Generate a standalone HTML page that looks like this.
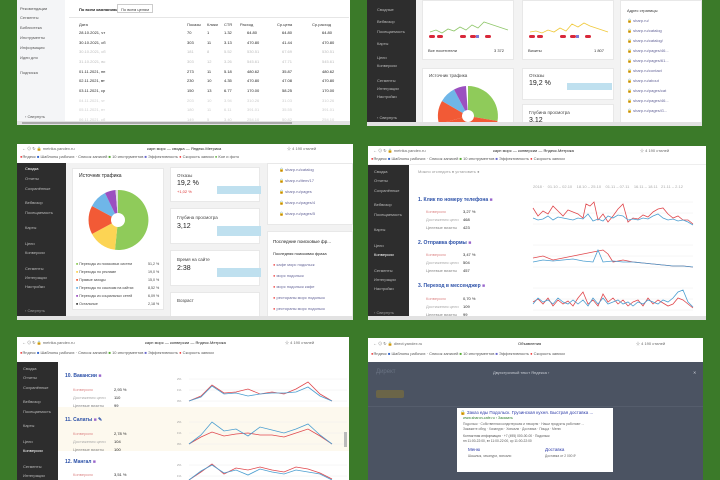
<!DOCTYPE html>
<html><head><meta charset="utf-8"><style>
*{margin:0;padding:0;box-sizing:border-box}
body{width:720px;height:480px;background:#3b7a29;position:relative;overflow:hidden;font-family:"Liberation Sans","Noto Sans CJK SC",sans-serif;font-size:4px;color:#333}
.a{position:absolute}
.p{position:absolute;background:#fff;overflow:hidden}
.dk{background:#2d2d2d}
.card{position:absolute;background:#fff;border:1px solid #e8e8e8}
.t{position:absolute;white-space:nowrap;font-size:4px;color:#444}
</style></head><body>

<!-- TOP LEFT -->
<div class="p" style="left:17px;top:0;width:333px;height:125px">
 <div class="a" style="left:0;top:0;width:48px;height:125px;background:#f4f5f7"></div>
 <div class="t" style="left:3px;top:6px;color:#555">Рекомендации</div>
 <div class="t" style="left:3px;top:15px;color:#555">Сегменты</div>
 <div class="t" style="left:3px;top:25px;color:#555">Библиотека</div>
 <div class="t" style="left:3px;top:35px;color:#555">Инструменты</div>
 <div class="t" style="left:3px;top:45px;color:#555">Информация</div>
 <div class="t" style="left:3px;top:55px;color:#555">Идеи для</div>
 <div class="t" style="left:3px;top:70px;color:#555">Подписка</div>
 <div class="t" style="left:8px;top:114px;color:#555">‹ Свернуть</div>
 <div class="a" style="left:52px;top:17px;width:280px;height:1px;background:#e6e6e6"></div>
 <div class="t" style="left:62px;top:7px;font-weight:bold;color:#222">По всем кампаниям</div>
 <div class="a" style="left:100px;top:4px;width:36px;height:9px;border:1px solid #ccc"></div>
 <div class="t" style="left:104px;top:7px">По всем целям</div>
 <svg class="a" style="left:60px;top:20px" width="272" height="104">
  <g font-size="4" fill="#333" font-family="Liberation Sans">
  <text x="2" y="6">Дата</text><text x="110" y="6">Показы</text><text x="130" y="6">Клики</text><text x="147" y="6">CTR</text><text x="163" y="6">Расход</text><text x="200" y="6">Ср.цена</text><text x="235" y="6">Ср.расход</text>
  </g>
  <g font-size="4" font-family="Liberation Sans">
  <g fill="#222"><text x="2" y="14">28.10.2021, чт</text><text x="110" y="14">70</text><text x="130" y="14">1</text><text x="147" y="14">1.32</text><text x="170" y="14">64.80</text><text x="205" y="14">64.80</text><text x="245" y="14">64.80</text></g>
  <g fill="#222"><text x="2" y="24">30.10.2021, сб</text><text x="110" y="24">303</text><text x="130" y="24">11</text><text x="147" y="24">3.13</text><text x="170" y="24">470.80</text><text x="205" y="24">41.44</text><text x="245" y="24">470.80</text></g>
  <g fill="#bbb"><text x="2" y="33">30.10.2021, сб</text><text x="110" y="33">181</text><text x="130" y="33">8</text><text x="147" y="33">5.52</text><text x="170" y="33">530.51</text><text x="205" y="33">67.69</text><text x="245" y="33">530.51</text></g>
  <g fill="#bbb"><text x="2" y="43">31.10.2021, вс</text><text x="110" y="43">303</text><text x="130" y="43">12</text><text x="147" y="43">3.26</text><text x="170" y="43">545.61</text><text x="205" y="43">47.71</text><text x="245" y="43">545.61</text></g>
  <g fill="#222"><text x="2" y="53">01.11.2021, пн</text><text x="110" y="53">273</text><text x="130" y="53">11</text><text x="147" y="53">5.18</text><text x="170" y="53">480.62</text><text x="205" y="53">35.87</text><text x="245" y="53">480.62</text></g>
  <g fill="#222"><text x="2" y="62">02.11.2021, вт</text><text x="110" y="62">230</text><text x="130" y="62">10</text><text x="147" y="62">4.35</text><text x="170" y="62">470.80</text><text x="205" y="62">47.08</text><text x="245" y="62">470.80</text></g>
  <g fill="#222"><text x="2" y="72">03.11.2021, ср</text><text x="110" y="72">150</text><text x="130" y="72">13</text><text x="147" y="72">6.77</text><text x="170" y="72">170.00</text><text x="205" y="72">58.25</text><text x="245" y="72">170.00</text></g>
  <g fill="#ccc"><text x="2" y="82">04.11.2021, чт</text><text x="110" y="82">203</text><text x="130" y="82">10</text><text x="147" y="82">3.94</text><text x="170" y="82">310.26</text><text x="205" y="82">31.03</text><text x="245" y="82">310.26</text></g>
  <g fill="#ccc"><text x="2" y="91">05.11.2021, пт</text><text x="110" y="91">180</text><text x="130" y="91">11</text><text x="147" y="91">6.11</text><text x="170" y="91">391.01</text><text x="205" y="91">35.55</text><text x="245" y="91">391.01</text></g>
  <g fill="#ccc"><text x="2" y="101">06.11.2021, сб</text><text x="110" y="101">149</text><text x="130" y="101">5</text><text x="147" y="101">3.40</text><text x="170" y="101">254.10</text><text x="205" y="101">50.82</text><text x="245" y="101">254.10</text></g>
  </g>
 </svg>
 <div class="a" style="left:0;top:121px;width:333px;height:4px;background:#e2e2e2"></div>
 <div class="a" style="left:5px;top:122px;width:270px;height:2px;background:#aaa"></div>
</div>

<!-- TOP RIGHT -->
<div class="p" style="left:367px;top:0;width:335px;height:126px;background:#f3f3f3">
 <div class="a dk" style="left:0;top:0;width:49px;height:126px"></div>
 <div class="t" style="left:10px;top:7px;color:#bbb">Сводные</div>
 <div class="t" style="left:10px;top:19px;color:#bbb">Вебвизор</div>
 <div class="t" style="left:10px;top:29px;color:#bbb">Посещаемость</div>
 <div class="t" style="left:10px;top:41px;color:#bbb">Карты</div>
 <div class="t" style="left:10px;top:55px;color:#bbb">Цели</div>
 <div class="t" style="left:10px;top:63px;color:#bbb">Конверсии</div>
 <div class="t" style="left:10px;top:78px;color:#bbb">Сегменты</div>
 <div class="t" style="left:10px;top:86px;color:#bbb">Интеграции</div>
 <div class="t" style="left:10px;top:94px;color:#bbb">Настройки</div>
 <div class="t" style="left:10px;top:115px;color:#bbb">‹ Свернуть</div>
 <div class="card" style="left:55px;top:0;width:92px;height:60px"></div>
 <div class="card" style="left:155px;top:0;width:92px;height:60px"></div>
 <svg class="a" style="left:55px;top:0" width="200" height="60">
  <polyline fill="none" stroke="#8fc76a" stroke-width="0.8" points="8,32 14,30 20,33 26,29 32,31 38,27 44,30 50,25 56,28 62,22 68,24 74,26 80,28 86,30"/>
  <polyline fill="none" stroke="#f0c93a" stroke-width="0.8" points="108,32 114,31 120,33 126,30 132,32 138,28 144,31 150,24 156,27 162,23 168,26 174,28 180,30 186,32"/>
  <g fill="#d8283a"><rect x="7" y="35" width="6" height="3" rx="1.5"/><rect x="15" y="35" width="6" height="3" rx="1.5"/><rect x="38" y="35" width="6" height="3" rx="1.5"/><rect x="48" y="35" width="6" height="3" rx="1.5"/><rect x="63" y="35" width="6" height="3" rx="1.5"/>
  <rect x="107" y="35" width="6" height="3" rx="1.5"/><rect x="115" y="35" width="6" height="3" rx="1.5"/><rect x="138" y="35" width="6" height="3" rx="1.5"/><rect x="148" y="35" width="6" height="3" rx="1.5"/><rect x="163" y="35" width="6" height="3" rx="1.5"/></g>
  <g fill="#7a7ad8"><rect x="54" y="35" width="3" height="3"/><rect x="154" y="35" width="3" height="3"/></g>
  <text x="6" y="52" font-size="4" fill="#333">Все посетители</text><text x="72" y="52" font-size="4" fill="#333">3 372</text>
  <text x="106" y="52" font-size="4" fill="#333">Визиты</text><text x="172" y="52" font-size="4" fill="#333">1 807</text>
 </svg>
 <div class="card" style="left:253px;top:0;width:82px;height:126px"></div>
 <div class="t" style="left:260px;top:8px;color:#333">Адрес страницы</div>
 <div class="t" style="left:260px;top:18px;color:#669">🔒 sharp.ru/</div>
 <div class="t" style="left:260px;top:28px;color:#669">🔒 sharp.ru/catalog</div>
 <div class="t" style="left:260px;top:38px;color:#669">🔒 sharp.ru/catalog/</div>
 <div class="t" style="left:260px;top:48px;color:#669">🔒 sharp.ru/pages/46...</div>
 <div class="t" style="left:260px;top:58px;color:#669">🔒 sharp.ru/pages/61...</div>
 <div class="t" style="left:260px;top:68px;color:#669">🔒 sharp.ru/contact</div>
 <div class="t" style="left:260px;top:78px;color:#669">🔒 sharp.ru/about</div>
 <div class="t" style="left:260px;top:88px;color:#669">🔒 sharp.ru/pages/cat</div>
 <div class="t" style="left:260px;top:98px;color:#669">🔒 sharp.ru/pages/46...</div>
 <div class="t" style="left:260px;top:108px;color:#669">🔒 sharp.ru/pages/G...</div>
 <div class="card" style="left:55px;top:68px;width:92px;height:58px"></div>
 <div class="t" style="left:62px;top:73px;font-size:4.5px">Источник трафика</div>
 <svg class="a" style="left:55px;top:68px" width="92" height="58">
  <g transform="translate(46,48)">
   <path d="M0,0 L0,-30 A30,30 0 0 1 29.5,5 Z" fill="#8fcb5a"/>
   <path d="M0,0 L29.5,5 A30,30 0 0 1 -10,28 L-29,8 Z" fill="#f25a36"/>
   <path d="M0,0 L-29,8 A30,30 0 0 1 -26,-15 Z" fill="#f25a36"/>
   <path d="M0,0 L-26,-15 A30,30 0 0 1 -14,-26.5 Z" fill="#6fb6e8"/>
   <path d="M0,0 L-14,-26.5 A30,30 0 0 1 -2,-30 Z" fill="#9b50c0"/>
   <circle r="6" fill="#fff"/>
  </g>
 </svg>
 <div class="card" style="left:155px;top:68px;width:92px;height:32px"></div>
 <div class="t" style="left:162px;top:73px;font-size:4.5px">Отказы</div>
 <div class="t" style="left:162px;top:80px;font-size:7px;color:#222">19,2 %</div>
 <div class="a" style="left:200px;top:83px;width:45px;height:7px;background:#bfe0ef"></div>
 <div class="card" style="left:155px;top:104px;width:92px;height:22px"></div>
 <div class="t" style="left:162px;top:110px;font-size:4.5px">Глубина просмотра</div>
 <div class="t" style="left:162px;top:117px;font-size:7px;color:#222">3,12</div>
 <div class="a" style="left:0;top:122px;width:335px;height:4px;background:#e2e2e2"></div>
</div>

<!-- MIDDLE LEFT -->
<div class="p" style="left:17px;top:144px;width:336px;height:176px;background:#f2f2f2">
 <div class="a" style="left:0;top:0;width:336px;height:19px;background:#fff"></div>
 <div class="t" style="left:5px;top:2px;color:#666">←  ⊙  ↻  🔒 metrika.yandex.ru</div>
 <div class="t" style="left:130px;top:2px;color:#222">карп морс — сводка — Яндекс.Метрика</div>
 <div class="t" style="left:270px;top:2px;color:#666">☆ 4 190 стилей</div>
 <div class="t" style="left:3px;top:10px;color:#555"><span style="color:#e33">●</span>Яндекс <span style="color:#36c">■</span> Шаблоны рабочих · Список записей <span style="color:#5a3">■</span> 10 инструментов <span style="color:#66c">■</span> Эффективность <span style="color:#e33">●</span> Скорость записи <span style="color:#5a3">●</span> Кое и фото</div>
 <div class="a dk" style="left:0;top:19px;width:49px;height:153px"></div>
 <div class="t" style="left:8px;top:22px;color:#fff">Сводка</div>
 <div class="t" style="left:8px;top:32px;color:#bbb">Отчеты</div>
 <div class="t" style="left:8px;top:42px;color:#bbb">Сохранённые</div>
 <div class="t" style="left:8px;top:56px;color:#bbb">Вебвизор</div>
 <div class="t" style="left:8px;top:66px;color:#bbb">Посещаемость</div>
 <div class="t" style="left:8px;top:81px;color:#bbb">Карты</div>
 <div class="t" style="left:8px;top:97px;color:#bbb">Цели</div>
 <div class="t" style="left:8px;top:106px;color:#bbb">Конверсии</div>
 <div class="t" style="left:8px;top:122px;color:#bbb">Сегменты</div>
 <div class="t" style="left:8px;top:131px;color:#bbb">Интеграции</div>
 <div class="t" style="left:8px;top:140px;color:#bbb">Настройки</div>
 <div class="t" style="left:8px;top:164px;color:#999">‹ Свернуть</div>
 <div class="card" style="left:55px;top:24px;width:92px;height:142px"></div>
 <div class="t" style="left:62px;top:29px;font-size:5px;color:#222">Источник трафика</div>
 <svg class="a" style="left:55px;top:24px" width="92" height="142">
  <g transform="translate(46,52)">
   <path d="M0,0 L0,-30 A30,30 0 1 1 -3,29.8 Z" fill="#8fcb5a"/>
   <path d="M0,0 L-3,29.8 A30,30 0 0 1 -26,14 Z" fill="#fcd454"/>
   <path d="M0,0 L-26,14 A30,30 0 0 1 -26,-14 Z" fill="#f25a36"/>
   <path d="M0,0 L-26,-14 A30,30 0 0 1 -13,-27 Z" fill="#6fb6e8"/>
   <path d="M0,0 L-13,-27 A30,30 0 0 1 -2.5,-30 Z" fill="#9b50c0"/>
   <path d="M0,0 L-2.5,-30 A30,30 0 0 1 0,-30 Z" fill="#ddd"/>
   <circle r="7" fill="#fff"/>
  </g>
  <g font-size="3.6" fill="#444" font-family="Liberation Sans">
   <text x="4" y="97"><tspan fill="#8fcb5a">■</tspan> Переходы из поисковых систем</text><text x="76" y="97">51,2 %</text>
   <text x="4" y="105"><tspan fill="#fcd454">■</tspan> Переходы по рекламе</text><text x="76" y="105">19,0 %</text>
   <text x="4" y="113"><tspan fill="#f25a36">■</tspan> Прямые заходы</text><text x="76" y="113">15,0 %</text>
   <text x="4" y="121"><tspan fill="#6fb6e8">■</tspan> Переходы по ссылкам на сайтах</text><text x="76" y="121">8,52 %</text>
   <text x="4" y="129"><tspan fill="#9b50c0">■</tspan> Переходы из социальных сетей</text><text x="76" y="129">6,09 %</text>
   <text x="4" y="137">■ Остальные</text><text x="76" y="137">2,18 %</text>
  </g>
 </svg>
 <div class="card" style="left:153px;top:23px;width:90px;height:35px"></div>
 <div class="t" style="left:160px;top:29px;font-size:4.5px">Отказы</div>
 <div class="t" style="left:160px;top:36px;font-size:7px;color:#222">19,2 %</div>
 <div class="t" style="left:160px;top:45px;color:#d33">+1,02 %</div>
 <div class="a" style="left:200px;top:42px;width:44px;height:8px;background:#bfe0ef"></div>
 <div class="card" style="left:153px;top:64px;width:90px;height:36px"></div>
 <div class="t" style="left:160px;top:71px;font-size:4.5px">Глубина просмотра</div>
 <div class="t" style="left:160px;top:79px;font-size:7px;color:#222">3,12</div>
 <div class="a" style="left:200px;top:82px;width:44px;height:10px;background:#bfe0ef"></div>
 <div class="card" style="left:153px;top:106px;width:90px;height:36px"></div>
 <div class="t" style="left:160px;top:113px;font-size:4.5px">Время на сайте</div>
 <div class="t" style="left:160px;top:121px;font-size:7px;color:#222">2:38</div>
 <div class="a" style="left:200px;top:124px;width:44px;height:9px;background:#bfe0ef"></div>
 <div class="card" style="left:153px;top:148px;width:90px;height:28px"></div>
 <div class="t" style="left:160px;top:154px;font-size:4.5px">Возраст</div>
 <div class="card" style="left:250px;top:19px;width:86px;height:62px"></div>
 <div class="t" style="left:262px;top:23px;color:#669">🔒 sharp.ru/catalog</div>
 <div class="t" style="left:262px;top:34px;color:#669">🔒 sharp.ru/item/17</div>
 <div class="t" style="left:262px;top:45px;color:#669">🔒 sharp.ru/pages</div>
 <div class="t" style="left:262px;top:56px;color:#669">🔒 sharp.ru/pages/4</div>
 <div class="t" style="left:262px;top:67px;color:#669">🔒 sharp.ru/pages/5</div>
 <div class="card" style="left:250px;top:87px;width:86px;height:89px"></div>
 <div class="t" style="left:256px;top:95px;font-size:4.5px;color:#222">Последние поисковые фр...</div>
 <div class="t" style="left:256px;top:107px;color:#222">Последняя поисковая фраза</div>
 <div class="t" style="left:256px;top:118px;color:#669"><span style="color:#e55">●</span> кафе морс подольск</div>
 <div class="t" style="left:256px;top:129px;color:#669"><span style="color:#e55">●</span> морс подольск</div>
 <div class="t" style="left:256px;top:140px;color:#669"><span style="color:#e55">●</span> морс подольск кафе</div>
 <div class="t" style="left:256px;top:151px;color:#669"><span style="color:#e55">●</span> рестораны морс подольск</div>
 <div class="t" style="left:256px;top:162px;color:#669"><span style="color:#e55">●</span> рестораны морс подольск</div>
 <div class="a" style="left:0;top:172px;width:336px;height:4px;background:#e2e2e2"></div>
</div>

<!-- MIDDLE RIGHT -->
<div class="p" style="left:368px;top:146px;width:338px;height:174px">
 <div class="a" style="left:0;top:0;width:338px;height:19px;background:#fff;border-bottom:1px solid #eee"></div>
 <div class="t" style="left:5px;top:2px;color:#666">←  ⊙  ↻  🔒 metrika.yandex.ru</div>
 <div class="t" style="left:125px;top:2px;color:#222">карп морс — конверсии — Яндекс.Метрика</div>
 <div class="t" style="left:272px;top:2px;color:#666">☆ 4 190 стилей</div>
 <div class="t" style="left:3px;top:10px;color:#555"><span style="color:#e33">●</span>Яндекс <span style="color:#36c">■</span> Шаблоны рабочих · Список записей <span style="color:#5a3">■</span> 10 инструментов <span style="color:#66c">■</span> Эффективность <span style="color:#e33">●</span> Скорость записи</div>
 <div class="a dk" style="left:0;top:19px;width:41px;height:151px"></div>
 <div class="t" style="left:6px;top:23px;color:#bbb">Сводка</div>
 <div class="t" style="left:6px;top:32px;color:#bbb">Отчеты</div>
 <div class="t" style="left:6px;top:42px;color:#bbb">Сохранённые</div>
 <div class="t" style="left:6px;top:56px;color:#bbb">Вебвизор</div>
 <div class="t" style="left:6px;top:66px;color:#bbb">Посещаемость</div>
 <div class="t" style="left:6px;top:81px;color:#bbb">Карты</div>
 <div class="t" style="left:6px;top:97px;color:#bbb">Цели</div>
 <div class="t" style="left:6px;top:106px;color:#fff">Конверсии</div>
 <div class="t" style="left:6px;top:122px;color:#bbb">Сегменты</div>
 <div class="t" style="left:6px;top:131px;color:#bbb">Интеграции</div>
 <div class="t" style="left:6px;top:140px;color:#bbb">Настройки</div>
 <div class="t" style="left:6px;top:164px;color:#999">‹ Свернуть</div>
 <div class="t" style="left:50px;top:23px;color:#999">Можно отследить ● установить ●</div>
 <div class="t" style="left:165px;top:38px;color:#aaa">2018 · &nbsp;&nbsp;01.10 – 02.10 &nbsp;&nbsp; 18.10 – 25.10 &nbsp;&nbsp; 01.11 – 07.11 &nbsp;&nbsp; 16.11 – 18.11 &nbsp; 21.11 – 2.12</div>
 <div class="t" style="left:50px;top:51px;font-size:5px;color:#2b50a8;font-weight:bold">1. Клик по номеру телефона <span style="color:#96c">■</span></div>
 <div class="t" style="left:58px;top:63px;color:#d88">Конверсия</div><div class="t" style="left:95px;top:63px;color:#222">3,27 %</div>
 <div class="t" style="left:58px;top:71px;color:#aaa">Достижения цели</div><div class="t" style="left:95px;top:71px;color:#222">468</div>
 <div class="t" style="left:58px;top:79px;color:#888">Целевые визиты</div><div class="t" style="left:95px;top:79px;color:#222">423</div>
 <div class="t" style="left:50px;top:94px;font-size:5px;color:#2b50a8;font-weight:bold">2. Отправка формы <span style="color:#96c">■</span></div>
 <div class="t" style="left:58px;top:106px;color:#d88">Конверсия</div><div class="t" style="left:95px;top:106px;color:#222">3,47 %</div>
 <div class="t" style="left:58px;top:114px;color:#aaa">Достижения цели</div><div class="t" style="left:95px;top:114px;color:#222">504</div>
 <div class="t" style="left:58px;top:122px;color:#888">Целевые визиты</div><div class="t" style="left:95px;top:122px;color:#222">457</div>
 <div class="t" style="left:50px;top:137px;font-size:5px;color:#2b50a8;font-weight:bold">3. Переход в мессенджер <span style="color:#96c">■</span></div>
 <div class="t" style="left:58px;top:150px;color:#d88">Конверсия</div><div class="t" style="left:95px;top:150px;color:#222">0,70 %</div>
 <div class="t" style="left:58px;top:158px;color:#aaa">Достижения цели</div><div class="t" style="left:95px;top:158px;color:#222">109</div>
 <div class="t" style="left:58px;top:166px;color:#888">Целевые визиты</div><div class="t" style="left:95px;top:166px;color:#222">99</div>
 <svg class="a" style="left:160px;top:48px" width="178" height="125">
  <g stroke="#eee" stroke-width="0.5"><line x1="5" y1="8" x2="165" y2="8"/><line x1="5" y1="19" x2="165" y2="19"/><line x1="5" y1="30" x2="165" y2="30"/><line x1="5" y1="51" x2="165" y2="51"/><line x1="5" y1="62" x2="165" y2="62"/><line x1="5" y1="73" x2="165" y2="73"/><line x1="5" y1="94" x2="165" y2="94"/><line x1="5" y1="105" x2="165" y2="105"/><line x1="5" y1="116" x2="165" y2="116"/></g>
  <polyline fill="none" stroke="#e0484d" stroke-width="0.8" points="5,14 10,22 15,17 20,20 25,12 30,17 35,22 40,16 45,18 50,20 55,24 58,10 62,12 66,8 70,26 75,20 80,28 85,22 90,15 95,10 100,28 105,24 110,25 115,21 120,23 125,18 130,15 135,14 140,20 145,24 150,22 155,26 160,26 165,30"/>
  <polyline fill="none" stroke="#4b9ed0" stroke-width="0.8" points="5,24 10,26 15,25 20,22 25,26 30,23 35,24 40,25 45,26 50,24 55,25 60,20 65,27 70,25 75,27 80,22 85,24 90,21 95,22 100,26 105,25 110,26 115,24 120,25 125,22 130,20 135,24 140,26 145,25 150,27 155,26 160,28 165,31"/>
  <polyline fill="none" stroke="#e0484d" stroke-width="0.8" points="5,64 15,62 25,66 35,64 45,62 55,60 65,58 75,56 80,60 85,68 95,66 105,68 115,69 125,70 135,71 145,72 155,72 165,73"/>
  <polyline fill="none" stroke="#4b9ed0" stroke-width="0.8" points="5,68 15,66 25,67 35,66 45,65 55,67 65,68 70,56 75,68 85,67 95,68 105,68 115,69 125,70 135,71 145,72 155,72 165,73"/>
  <polyline fill="none" stroke="#e0484d" stroke-width="0.8" points="5,108 10,105 15,110 20,104 25,112 30,106 35,110 40,107 45,112 50,104 55,98 60,110 65,106 70,112 75,100 80,108 85,104 90,110 95,106 100,112 105,108 110,106 115,112 120,104 125,110 130,106 135,109 140,112 145,110 150,104 155,106 160,110 165,114"/>
  <polyline fill="none" stroke="#4b9ed0" stroke-width="0.8" points="5,110 10,104 15,108 20,106 25,110 30,104 35,108 40,110 45,106 50,110 55,106 60,112 65,104 70,110 75,104 80,110 85,108 90,106 95,110 100,108 105,112 110,108 115,110 120,106 125,108 130,110 135,106 140,108 145,104 150,98 155,96 160,108 165,113"/>
 </svg>
 <div class="a" style="left:0;top:170px;width:338px;height:4px;background:#e2e2e2"></div>
</div>

<!-- BOTTOM LEFT -->
<div class="p" style="left:17px;top:337px;width:332px;height:143px">
 <div class="a" style="left:0;top:0;width:332px;height:25px;background:#fff"></div>
 <div class="t" style="left:5px;top:3px;color:#666">←  ⊙  ↻  🔒 metrika.yandex.ru</div>
 <div class="t" style="left:128px;top:3px;color:#222">карп морс — конверсии — Яндекс.Метрика</div>
 <div class="t" style="left:268px;top:3px;color:#666">☆ 4 190 стилей</div>
 <div class="t" style="left:3px;top:13px;color:#555"><span style="color:#e33">●</span>Яндекс <span style="color:#36c">■</span> Шаблоны рабочих · Список записей <span style="color:#5a3">■</span> 10 инструментов <span style="color:#66c">■</span> Эффективность <span style="color:#e33">●</span> Скорость записи</div>
 <div class="a dk" style="left:0;top:25px;width:41px;height:118px"></div>
 <div class="t" style="left:6px;top:29px;color:#bbb">Сводка</div>
 <div class="t" style="left:6px;top:38px;color:#bbb">Отчеты</div>
 <div class="t" style="left:6px;top:48px;color:#bbb">Сохранённые</div>
 <div class="t" style="left:6px;top:62px;color:#bbb">Вебвизор</div>
 <div class="t" style="left:6px;top:72px;color:#bbb">Посещаемость</div>
 <div class="t" style="left:6px;top:86px;color:#bbb">Карты</div>
 <div class="t" style="left:6px;top:102px;color:#bbb">Цели</div>
 <div class="t" style="left:6px;top:111px;color:#fff">Конверсии</div>
 <div class="t" style="left:6px;top:127px;color:#bbb">Сегменты</div>
 <div class="t" style="left:6px;top:136px;color:#bbb">Интеграции</div>
 <div class="a" style="left:41px;top:70px;width:291px;height:44px;background:#fdf9ee"></div>
 <div class="t" style="left:48px;top:36px;font-size:5px;color:#2b50a8;font-weight:bold">10. Вакансии <span style="color:#96c">■</span></div>
 <div class="t" style="left:56px;top:50px;color:#d88">Конверсия</div><div class="t" style="left:97px;top:50px;color:#222">2,93 %</div>
 <div class="t" style="left:56px;top:58px;color:#aaa">Достижения цели</div><div class="t" style="left:97px;top:58px;color:#222">110</div>
 <div class="t" style="left:56px;top:66px;color:#888">Целевые визиты</div><div class="t" style="left:97px;top:66px;color:#222">99</div>
 <div class="t" style="left:48px;top:80px;font-size:5px;color:#2b50a8;font-weight:bold">11. Салаты <span style="color:#96c">■</span> ✎</div>
 <div class="t" style="left:56px;top:94px;color:#d88">Конверсия</div><div class="t" style="left:97px;top:94px;color:#222">2,78 %</div>
 <div class="t" style="left:56px;top:102px;color:#aaa">Достижения цели</div><div class="t" style="left:97px;top:102px;color:#222">104</div>
 <div class="t" style="left:56px;top:110px;color:#888">Целевые визиты</div><div class="t" style="left:97px;top:110px;color:#222">100</div>
 <div class="t" style="left:48px;top:122px;font-size:5px;color:#2b50a8;font-weight:bold">12. Мангал <span style="color:#96c">■</span></div>
 <div class="t" style="left:56px;top:135px;color:#d88">Конверсия</div><div class="t" style="left:97px;top:135px;color:#222">3,51 %</div>
 <svg class="a" style="left:160px;top:30px" width="172" height="113">
  <g stroke="#eee" stroke-width="0.5"><line x1="12" y1="12" x2="170" y2="12"/><line x1="12" y1="23" x2="170" y2="23"/><line x1="12" y1="34" x2="170" y2="34"/><line x1="12" y1="55" x2="170" y2="55"/><line x1="12" y1="66" x2="170" y2="66"/><line x1="12" y1="77" x2="170" y2="77"/><line x1="12" y1="98" x2="170" y2="98"/><line x1="12" y1="109" x2="170" y2="109"/></g>
  <g font-size="3" fill="#999"><text x="0" y="13">2%</text><text x="0" y="24">1%</text><text x="0" y="35">0%</text><text x="0" y="56">2%</text><text x="0" y="67">1%</text><text x="0" y="78">0%</text><text x="0" y="99">2%</text><text x="0" y="110">1%</text></g>
  <polyline fill="none" stroke="#e0484d" stroke-width="0.8" points="12,34 24,29 35,18 47,26 59,25 71,22 83,27 95,25 107,27 119,22 131,15 143,27 155,34"/>
  <polyline fill="none" stroke="#4b9ed0" stroke-width="0.8" points="12,34 24,30 35,19 47,27 59,26 71,29 83,27 95,26 107,26 119,25 131,20 143,29 155,34"/>
  <polyline fill="none" stroke="#e0484d" stroke-width="0.8" points="12,77 24,70 35,65 47,69 59,67 71,66 83,68 95,68 107,70 119,66 131,62 143,69 155,77"/>
  <polyline fill="none" stroke="#4b9ed0" stroke-width="0.8" points="12,77 24,68 35,55 47,64 59,62 71,69 83,60 95,63 107,66 119,62 131,57 143,68 155,77"/>
  <polyline fill="none" stroke="#e0484d" stroke-width="0.8" points="12,113 24,105 35,97 47,107 59,101 71,103 83,100 95,103 107,105 119,100 131,102 143,106 155,112"/>
  <polyline fill="none" stroke="#4b9ed0" stroke-width="0.8" points="12,113 24,104 35,98 47,106 59,103 71,108 83,102 95,105 107,107 119,103 131,105 143,107 155,113"/>
 </svg>
 <div class="a" style="left:327px;top:95px;width:3px;height:15px;background:#bbb"></div>
</div>

<!-- BOTTOM RIGHT -->
<div class="p" style="left:368px;top:338px;width:335px;height:142px;background:#4b5362">
 <div class="a" style="left:0;top:0;width:335px;height:24px;background:#fff"></div>
 <div class="t" style="left:5px;top:3px;color:#666">←  ⊙  ↻  🔒 direct.yandex.ru</div>
 <div class="t" style="left:150px;top:3px;color:#222">Объявления</div>
 <div class="t" style="left:268px;top:3px;color:#666">☆ 4 190 стилей</div>
 <div class="t" style="left:3px;top:13px;color:#555"><span style="color:#e33">●</span>Яндекс <span style="color:#36c">■</span> Шаблоны рабочих · Список записей <span style="color:#5a3">■</span> 10 инструментов <span style="color:#66c">■</span> Эффективность <span style="color:#e33">●</span> Скорость записи</div>
 <div class="t" style="left:8px;top:31px;font-size:6px;color:#6a7383">Директ</div>
 <div class="t" style="left:125px;top:32px;color:#c8ccd4">Двухстрочный текст Яндекса ›</div>
 <div class="t" style="left:325px;top:32px;color:#c8ccd4">✕</div>
 <div class="a" style="left:8px;top:52px;width:28px;height:8px;background:#6b6548;border-radius:2px"></div>
 <div class="a" style="left:0;top:68px;width:335px;height:1px;background:#555d6c"></div>
 <div class="a" style="left:89px;top:70px;width:156px;height:64px;background:#fff"></div>
 <div class="t" style="left:92px;top:72px;font-size:4.5px;color:#2b3aa8">🔒 Заказ еды Подольск. Грузинская кухня. Быстрая доставка ...</div>
 <div class="t" style="left:95px;top:78px;font-size:3.6px;color:#2a7a2a">www.sharon-cafe.ru › Заказать</div>
 <div class="t" style="left:95px;top:84px;font-size:3.3px;color:#666">Подольск · Собственная кондитерская и пекарня · Наши продукты работают ...</div>
 <div class="t" style="left:95px;top:89px;font-size:3.3px;color:#666">Закажите обед · Хачапури · Хинкали · Доставка · Пицца · Меню</div>
 <div class="t" style="left:95px;top:96px;font-size:3.3px;color:#555">Контактная информация · +7 (495) 000-00-00 · Подольск</div>
 <div class="t" style="left:95px;top:101px;font-size:3.3px;color:#555">пн 11:00-22:00, вт 11:00-22:00, ср 11:00-22:00</div>
 <div class="t" style="left:100px;top:109px;font-size:4.5px;color:#2b3aa8">Меню</div>
 <div class="t" style="left:177px;top:109px;font-size:4.5px;color:#2b3aa8">Доставка</div>
 <div class="t" style="left:100px;top:116px;font-size:3.3px;color:#666">Шашлык, хачапури, хинкали</div>
 <div class="t" style="left:177px;top:116px;font-size:3.3px;color:#666">Доставка от 2 000 ₽</div>
</div>
</body></html>
